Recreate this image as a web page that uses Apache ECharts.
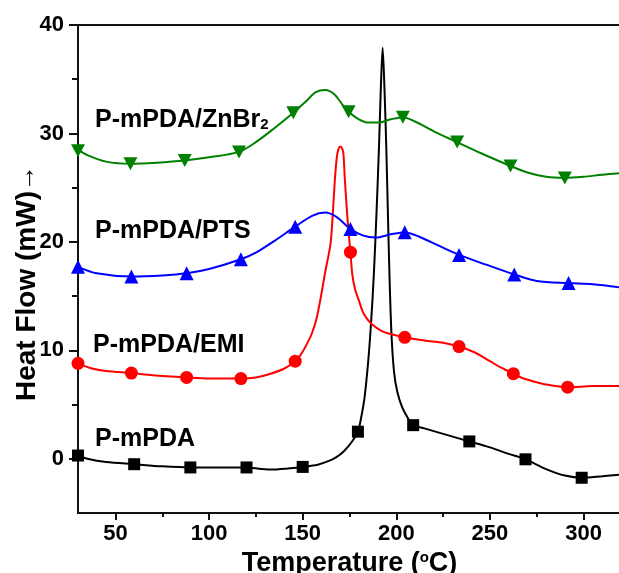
<!DOCTYPE html>
<html>
<head>
<meta charset="utf-8">
<script src="https://cdn.jsdelivr.net/npm/echarts@6/dist/echarts.min.js"></script>
<style>
  html, body { margin: 0; padding: 0; background: #ffffff; }
  #chart { width: 619px; height: 573px; }
</style>
</head>
<body>
<div id="chart"></div>
<script>
// Axis tick positions
const xMajorTicks = [50, 100, 150, 200, 250, 300];
const xMinorTicks = [75, 125, 175, 225, 275];
const yMajorTicks = [0, 10, 20, 30, 40];
const yMinorTicks = [5, 15, 25, 35];

// DSC traces: [temperature (°C), heat flow (mW)]
const pmpdaCurve = [
  [30, 0.3], [35, 0.0], [45, -0.3], [60, -0.5], [75, -0.7], [90, -0.8], [105, -0.8],
  [120, -0.8], [128, -0.95], [135, -1.0], [142, -0.9], [150, -0.75], [158, -0.55],
  [164, -0.2], [168, 0.15], [172, 0.7], [176, 1.5], [179.5, 2.5], [181, 3.6], [183, 5.6],
  [185, 9.0], [186.5, 12.5], [188, 17.0], [189.5, 23.0], [190.8, 29.0], [191.7, 34.0],
  [192.7, 37.9], [193.7, 34.0], [194.6, 29.0], [195.6, 22.0], [196.5, 16.0], [197.5, 11.2],
  [198.8, 8.0], [200.5, 6.2], [203, 4.8], [206, 3.8], [209, 3.1], [215, 2.8], [225, 2.3],
  [239, 1.6], [250, 1.05], [260, 0.45], [269, -0.05], [280, -0.95], [290, -1.55],
  [299, -1.75], [310, -1.6], [320, -1.45]
];
const pmpdaMarks = [
  [30, 0.3], [60, -0.5], [90, -0.8], [120, -0.8], [150, -0.75],
  [179.5, 2.5], [209, 3.1], [239, 1.6], [269, -0.05], [299, -1.75]
];

const emiCurve = [
  [30, 8.8], [38, 8.3], [45, 8.1], [58.5, 7.9], [70, 7.7], [88, 7.5], [100, 7.4],
  [117, 7.4], [125, 7.5], [132, 7.8], [140, 8.3], [146, 9.0], [149, 9.6], [152, 10.5],
  [155, 11.6], [157.5, 13.0], [160, 15.2], [162, 17.2], [163.5, 18.5], [165, 20.0],
  [166.4, 23.5], [167.3, 26.0], [168.3, 27.9], [169.2, 28.6], [170, 28.8], [170.8, 28.7],
  [171.7, 28.2], [172.5, 25.8], [174, 22.0], [175.5, 19.05], [176.5, 17.0], [178, 15.6],
  [180, 14.6], [182, 13.6], [184, 13.0], [187, 12.4], [192, 11.8], [197, 11.5],
  [204.5, 11.2], [215, 10.9], [225, 10.7], [233.5, 10.35], [242, 9.8], [250, 9.0],
  [256, 8.4], [262.5, 7.85], [268, 7.4], [272, 7.2], [280, 6.85], [291.5, 6.6],
  [305, 6.7], [320, 6.7]
];
const emiMarks = [
  [30, 8.8], [58.5, 7.9], [88, 7.5], [117, 7.4], [146, 9.0],
  [175.5, 19.05], [204.5, 11.2], [233.5, 10.35], [262.5, 7.85], [291.5, 6.6]
];

const ptsCurve = [
  [30, 17.7], [40, 17.1], [58.5, 16.8], [75, 16.9], [88, 17.1], [100, 17.5], [117, 18.4],
  [125, 19.0], [135, 20.1], [146, 21.4], [155, 22.4], [162, 22.7], [168, 22.3],
  [175.5, 21.2], [182, 20.6], [189, 20.4], [197, 20.7], [204.5, 20.9], [212, 20.5],
  [222, 19.7], [233.5, 18.8], [248, 17.9], [263, 17.0], [275, 16.4], [292, 16.2],
  [305, 16.1], [320, 15.8]
];
const ptsMarks = [
  [30, 17.7], [58.5, 16.8], [88, 17.1], [117, 18.4], [146, 21.4],
  [175.5, 21.2], [204.5, 20.9], [233.5, 18.8], [263, 17.0], [292, 16.2]
];

const znbrCurve = [
  [30, 28.5], [35, 28.0], [45, 27.4], [58, 27.2], [72, 27.3], [87, 27.5], [100, 27.8],
  [116, 28.3], [125, 29.2], [135, 30.5], [145, 31.9], [152, 33.0], [157, 33.8],
  [162, 34.0], [167, 33.6], [171, 32.7], [174.5, 32.0], [180, 31.3], [185, 31.0],
  [190.5, 31.0], [197, 31.3], [203.5, 31.5], [210, 31.1], [220, 30.2], [232.5, 29.2],
  [245, 28.2], [261, 27.0], [270, 26.4], [280, 26.0], [290, 25.9], [300, 26.0],
  [310, 26.2], [320, 26.35]
];
const znbrMarks = [
  [30, 28.4], [58, 27.2], [87, 27.5], [116, 28.3], [145, 31.9],
  [174.5, 32.0], [203.5, 31.5], [232.5, 29.2], [261, 27.0], [290, 25.9]
];

const FONT = '"Liberation Sans", Arial, Helvetica, sans-serif';

const samples = [
  { curve: pmpdaCurve, marks: pmpdaMarks, color: '#000000', symbol: 'rect', size: 12 },
  { curve: emiCurve, marks: emiMarks, color: '#ff0000', symbol: 'circle', size: 13 },
  { curve: ptsCurve, marks: ptsMarks, color: '#0000ff', symbol: 'triangle', size: 14 },
  { curve: znbrCurve, marks: znbrMarks, color: '#008000', symbol: 'path://M0,0 L10,0 L5,9 Z', size: [14, 13] }
];

const series = [];
samples.forEach(s => {
  series.push({
    type: 'line',
    data: s.curve,
    smooth: 0.3,
    showSymbol: false,
    silent: true,
    lineStyle: { color: s.color, width: 2 },
    z: 2
  });
  series.push({
    type: 'scatter',
    data: s.marks,
    symbol: s.symbol,
    symbolSize: s.size,
    itemStyle: { color: s.color, opacity: 1 },
    silent: true,
    z: 3
  });
});

const axisColor = '#111111';
const labelStyle = { fontFamily: FONT, fontWeight: 'bold', fontSize: 22, color: '#000' };
const chart = echarts.init(document.getElementById('chart'), null, { renderer: 'canvas' });

chart.setOption({
  animation: false,
  backgroundColor: '#ffffff',
  grid: { left: 78, right: -2, top: 25, bottom: 60, outerBoundsMode: 'none', containLabel: false },
  xAxis: [
    {
      type: 'value', min: 30, max: 320, position: 'bottom',
      axisLine: { show: true, onZero: false, lineStyle: { color: axisColor, width: 2 } },
      axisTick: { show: true, customValues: xMajorTicks, length: 7, inside: false, lineStyle: { color: axisColor, width: 2 } },
      axisLabel: Object.assign({ customValues: xMajorTicks, margin: 10 }, labelStyle),
      splitLine: { show: false },
      name: 'Temperature ({sup|o}C)',
      nameLocation: 'middle',
      nameGap: 30,
      nameTextStyle: {
        fontFamily: FONT, fontWeight: 'bold', fontSize: 27, color: '#000',
        rich: { sup: { fontFamily: FONT, fontWeight: 'bold', fontSize: 15, color: '#000', verticalAlign: 'top', padding: [0, 0, 11, 0] } }
      }
    },
    {
      type: 'value', min: 30, max: 320, position: 'bottom',
      axisLine: { show: false, onZero: false },
      axisTick: { show: true, customValues: xMinorTicks, length: 4, inside: false, lineStyle: { color: axisColor, width: 2 } },
      axisLabel: { show: false },
      splitLine: { show: false }
    },
    {
      type: 'value', min: 30, max: 320, position: 'top',
      axisLine: { show: true, onZero: false, lineStyle: { color: axisColor, width: 2 } },
      axisTick: { show: false },
      axisLabel: { show: false },
      splitLine: { show: false }
    }
  ],
  yAxis: [
    {
      type: 'value', min: -5, max: 40, position: 'left',
      axisLine: { show: true, onZero: false, lineStyle: { color: axisColor, width: 2 } },
      axisTick: { show: true, customValues: yMajorTicks, length: 9, inside: false, lineStyle: { color: axisColor, width: 2 } },
      axisLabel: Object.assign({ customValues: yMajorTicks, margin: 14 }, labelStyle),
      splitLine: { show: false }
    },
    {
      type: 'value', min: -5, max: 40, position: 'left',
      axisLine: { show: false, onZero: false },
      axisTick: { show: true, customValues: yMinorTicks, length: 6, inside: false, lineStyle: { color: axisColor, width: 2 } },
      axisLabel: { show: false },
      splitLine: { show: false }
    }
  ],
  graphic: [
    {
      type: 'text', x: 27, y: 283, rotation: Math.PI / 2,
      style: {
        text: '{a|Heat Flow (mW)}{b|\u2192}', align: 'center', verticalAlign: 'middle',
        rich: {
          a: { fontFamily: FONT, fontWeight: 'bold', fontSize: 28, fill: '#000' },
          b: { fontFamily: FONT, fontWeight: 'normal', fontSize: 26, fill: '#000' }
        }
      }
    },
    {
      type: 'text', x: 95, y: 120,
      style: {
        text: '{a|P-mPDA/ZnBr}{s|2}', verticalAlign: 'middle',
        rich: {
          a: { fontFamily: FONT, fontWeight: 'bold', fontSize: 25, fill: '#000' },
          s: { fontFamily: FONT, fontWeight: 'bold', fontSize: 15, fill: '#000', verticalAlign: 'bottom' }
        }
      }
    },
    {
      type: 'text', x: 95, y: 231,
      style: { text: 'P-mPDA/PTS', fontFamily: FONT, fontWeight: 'bold', fontSize: 25, fill: '#000', verticalAlign: 'middle' }
    },
    {
      type: 'text', x: 93, y: 345,
      style: { text: 'P-mPDA/EMI', fontFamily: FONT, fontWeight: 'bold', fontSize: 25, fill: '#000', verticalAlign: 'middle' }
    },
    {
      type: 'text', x: 95, y: 439,
      style: { text: 'P-mPDA', fontFamily: FONT, fontWeight: 'bold', fontSize: 25, fill: '#000', verticalAlign: 'middle' }
    }
  ],
  series: series
});
</script>
</body>
</html>
